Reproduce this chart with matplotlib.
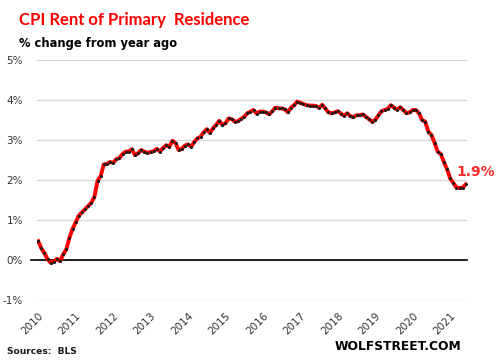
import numpy as np
import matplotlib
matplotlib.use('Agg')
import matplotlib.pyplot as plt

# monthly % change yoy, Jan 2010 .. Jun 2021
rent_2010 = [0.47, 0.29, 0.17, 0.02, -0.07, -0.04, 0.03, -0.03, 0.14, 0.27, 0.56, 0.78]
rent_2011 = [0.94, 1.11, 1.19, 1.27, 1.35, 1.43, 1.58, 1.98, 2.10, 2.39, 2.40, 2.45]
rent_2012 = [2.43, 2.52, 2.55, 2.65, 2.71, 2.71, 2.77, 2.62, 2.67, 2.75, 2.71, 2.68]
rent_2013 = [2.70, 2.72, 2.78, 2.71, 2.80, 2.87, 2.83, 2.98, 2.92, 2.75, 2.78, 2.86]
rent_2014 = [2.89, 2.83, 2.95, 3.04, 3.08, 3.19, 3.27, 3.18, 3.29, 3.38, 3.48, 3.38]
rent_2015 = [3.42, 3.54, 3.52, 3.46, 3.47, 3.53, 3.58, 3.67, 3.71, 3.75, 3.66, 3.71]
rent_2016 = [3.71, 3.69, 3.64, 3.72, 3.81, 3.79, 3.79, 3.77, 3.69, 3.81, 3.87, 3.96]
rent_2017 = [3.93, 3.90, 3.87, 3.86, 3.86, 3.85, 3.81, 3.88, 3.79, 3.69, 3.67, 3.69]
rent_2018 = [3.72, 3.66, 3.61, 3.67, 3.60, 3.57, 3.62, 3.62, 3.64, 3.58, 3.52, 3.46]
rent_2019 = [3.50, 3.62, 3.72, 3.75, 3.78, 3.87, 3.81, 3.76, 3.82, 3.75, 3.67, 3.69]
rent_2020 = [3.75, 3.75, 3.67, 3.50, 3.46, 3.21, 3.13, 2.93, 2.71, 2.65, 2.45, 2.27]
rent_2021 = [2.04, 1.93, 1.81, 1.80, 1.81, 1.89]

years = list(range(2010, 2022))
last_label = '1.9%'

rent = (rent_2010 + rent_2011 + rent_2012 + rent_2013 + rent_2014 + rent_2015
        + rent_2016 + rent_2017 + rent_2018 + rent_2019 + rent_2020 + rent_2021)
months = np.arange(len(rent))

fig = plt.figure(figsize=(4.97, 3.61), dpi=100)
ax = fig.add_axes([37 / 497, 1 - 300 / 361, 430 / 497, 240 / 361])

ax.plot(months, rent, color='#ff0000', lw=2.8, zorder=3,
        marker='o', ms=2.2, mfc='#1a1a1a', mec='#1a1a1a', mew=0)

ax.set_xlim(-0.4, 137.4)
ax.set_ylim(-1, 5)
ax.set_yticks(range(-1, 6))
ax.set_yticklabels([f'{v}%' for v in range(-1, 6)])
ax.yaxis.grid(True, color='#d9d9d9', lw=1)
ax.set_axisbelow(True)
ax.axhline(0, xmin=-0.014, xmax=1, color='black', lw=1.2, clip_on=False, zorder=2)

ax.set_xticks([12 * i for i in range(len(years))])
ax.set_xticklabels([str(y) for y in years], rotation=45, ha='right', va='top',
                   rotation_mode='anchor')
ax.tick_params(axis='both', length=0, labelsize=7.5, colors='#333333')
ax.tick_params(axis='y', pad=10)
ax.tick_params(axis='x', pad=8)
for s in ax.spines.values():
    s.set_visible(False)

ax.annotate(last_label, (months[-1], rent[-1]), xytext=(-7, 9), textcoords='offset points',
            color='#ff2a2a', fontsize=10, fontweight='bold', ha='left', va='center')

fig.text(19 / 497, 1 - 20 / 361, 'CPI Rent of Primary  Residence', color='#ff0000',
         fontsize=12, fontweight='bold', family='Lato', va='center')
fig.text(19 / 497, 1 - 43 / 361, '% change from year ago', color='black',
         fontsize=8.3, fontweight='bold', va='center')
fig.text(7 / 497, 1 - 351 / 361, 'Sources:  BLS', color='#1a1a1a',
         fontsize=6.6, fontweight='bold', va='center')
fig.text(335 / 497, 1 - 346 / 361, 'WOLFSTREET.COM', color='black',
         fontsize=8.8, fontweight='bold', va='center')

fig.savefig('out.png', dpi=100)
